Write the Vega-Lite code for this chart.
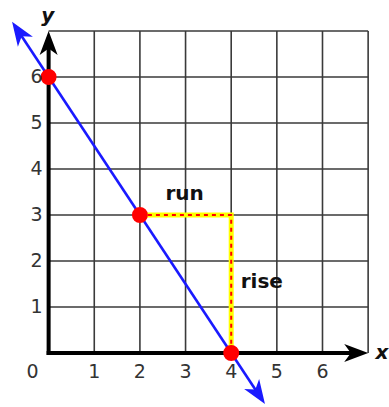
{
  "$schema": "https://vega.github.io/schema/vega-lite/v6.json",
  "width": 389,
  "height": 407,
  "autosize": {"type": "fit", "contains": "padding"},
  "padding": 0,
  "background": "white",
  "config": {"view": {"stroke": null}},
  "encoding": {
    "x": {"field": "x", "type": "quantitative", "scale": {"domain": [-1.0652, 7.3913], "nice": false, "zero": false}, "axis": null},
    "y": {"field": "y", "type": "quantitative", "scale": {"domain": [-1.1739, 7.6739], "nice": false, "zero": false}, "axis": null}
  },
  "layer": [
    {
      "data": {"values": [{"x": 1, "y": 0, "y2": 7}, {"x": 2, "y": 0, "y2": 7}, {"x": 3, "y": 0, "y2": 7}, {"x": 4, "y": 0, "y2": 7}, {"x": 5, "y": 0, "y2": 7}, {"x": 6, "y": 0, "y2": 7}, {"x": 7, "y": 0, "y2": 7}]},
      "mark": {"type": "rule", "stroke": "#3a3a3a", "strokeWidth": 1.6},
      "encoding": {"y2": {"field": "y2"}}
    },
    {
      "data": {"values": [{"y": 1, "x": 0, "x2": 7}, {"y": 2, "x": 0, "x2": 7}, {"y": 3, "x": 0, "x2": 7}, {"y": 4, "x": 0, "x2": 7}, {"y": 5, "x": 0, "x2": 7}, {"y": 6, "x": 0, "x2": 7}, {"y": 7, "x": 0, "x2": 7}]},
      "mark": {"type": "rule", "stroke": "#3a3a3a", "strokeWidth": 1.6},
      "encoding": {"x2": {"field": "x2"}}
    },
    {
      "data": {"values": [{"x": 2, "y": 3, "o": 0}, {"x": 4, "y": 3, "o": 1}, {"x": 4, "y": 0, "o": 2}]},
      "mark": {"type": "line", "stroke": "#ffff00", "strokeWidth": 5},
      "encoding": {"order": {"field": "o"}}
    },
    {
      "data": {"values": [{"x": 2, "y": 3, "o": 0}, {"x": 4, "y": 3, "o": 1}, {"x": 4, "y": 0, "o": 2}]},
      "mark": {"type": "line", "stroke": "#ff0000", "strokeWidth": 2, "strokeDash": [4, 4]},
      "encoding": {"order": {"field": "o"}}
    },
    {
      "data": {"values": [{"x": 0, "y": 0, "x2": 6.8, "y2": 0}, {"x": 0, "y": 0, "x2": 0, "y2": 6.8}]},
      "mark": {"type": "rule", "stroke": "black", "strokeWidth": 4, "strokeCap": "square"},
      "encoding": {"x2": {"field": "x2"}, "y2": {"field": "y2"}}
    },
    {
      "data": {"values": [{"x": 0, "y": 6.739}]},
      "mark": {"type": "point", "shape": "M0,-1L0.75,1L0,0.45L-0.75,1Z", "filled": true, "fill": "black", "opacity": 1, "size": 576, "angle": 0, "strokeWidth": 0}
    },
    {
      "data": {"values": [{"x": 6.739, "y": 0}]},
      "mark": {"type": "point", "shape": "M0,-1L0.75,1L0,0.45L-0.75,1Z", "filled": true, "fill": "black", "opacity": 1, "size": 576, "angle": 90, "strokeWidth": 0}
    },
    {
      "data": {"values": [{"x": -0.655, "y": 6.983}, {"x": 4.594, "y": -0.891}]},
      "mark": {"type": "line", "stroke": "#1a1aff", "strokeWidth": 2.6}
    },
    {
      "data": {"values": [{"x": -0.655, "y": 6.983}]},
      "mark": {"type": "point", "shape": "M0,-1L0.75,1L0,0.45L-0.75,1Z", "filled": true, "fill": "#1a1aff", "opacity": 1, "size": 576, "angle": 326.31, "strokeWidth": 0}
    },
    {
      "data": {"values": [{"x": 4.594, "y": -0.891}]},
      "mark": {"type": "point", "shape": "M0,-1L0.75,1L0,0.45L-0.75,1Z", "filled": true, "fill": "#1a1aff", "opacity": 1, "size": 576, "angle": 146.31, "strokeWidth": 0}
    },
    {
      "data": {"values": [{"x": 0, "y": 6}, {"x": 2, "y": 3}, {"x": 4, "y": 0}]},
      "mark": {"type": "point", "shape": "circle", "filled": true, "fill": "#ff0000", "opacity": 1, "size": 254, "strokeWidth": 0}
    },
    {
      "data": {"values": [{"x": -0.35, "y": -0.543, "label": "0"}, {"x": 1, "y": -0.543, "label": "1"}, {"x": 2, "y": -0.543, "label": "2"}, {"x": 3, "y": -0.543, "label": "3"}, {"x": 4, "y": -0.543, "label": "4"}, {"x": 5, "y": -0.543, "label": "5"}, {"x": 6, "y": -0.543, "label": "6"}]},
      "mark": {"type": "text", "font": "DejaVu Sans", "fontSize": 19, "fill": "#333333", "align": "center", "baseline": "alphabetic"},
      "encoding": {"text": {"field": "label"}}
    },
    {
      "data": {"values": [{"x": -0.13, "y": 1, "label": "1"}, {"x": -0.13, "y": 2, "label": "2"}, {"x": -0.13, "y": 3, "label": "3"}, {"x": -0.13, "y": 4, "label": "4"}, {"x": -0.13, "y": 5, "label": "5"}, {"x": -0.13, "y": 6, "label": "6"}]},
      "mark": {"type": "text", "font": "DejaVu Sans", "fontSize": 19, "fill": "#333333", "align": "right", "baseline": "middle"},
      "encoding": {"text": {"field": "label"}}
    },
    {
      "data": {"values": [{"x": 2.98, "y": 3.33, "label": "run"}, {"x": 4.67, "y": 1.41, "label": "rise"}]},
      "mark": {"type": "text", "font": "DejaVu Sans", "fontSize": 20, "fontWeight": "bold", "fill": "#111111", "align": "center", "baseline": "alphabetic"},
      "encoding": {"text": {"field": "label"}}
    },
    {
      "data": {"values": [{"x": -0.02, "y": 7.33, "label": "y"}, {"x": 7.3, "y": 0, "label": "x"}]},
      "mark": {"type": "text", "font": "DejaVu Sans", "fontSize": 20, "fontWeight": "bold", "fontStyle": "italic", "fill": "#111111", "align": "center", "baseline": "middle"},
      "encoding": {"text": {"field": "label"}}
    }
  ]
}
